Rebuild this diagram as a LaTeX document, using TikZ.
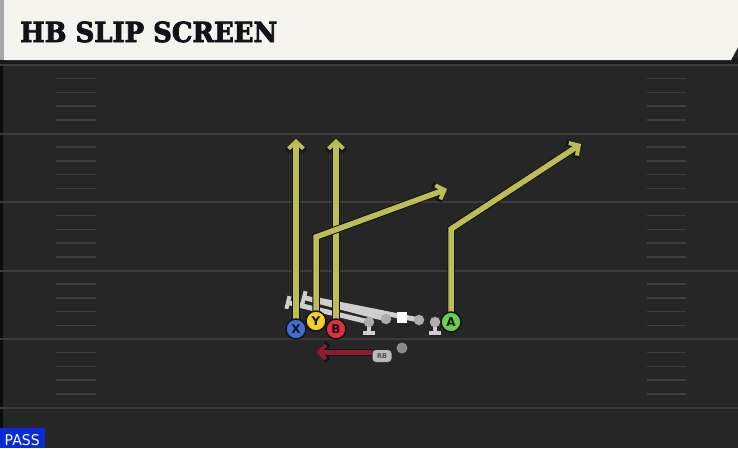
\documentclass[tikz,border=0pt]{standalone}
\usepackage{fontspec}
\usetikzlibrary{arrows.meta,calc}
\newfontfamily\titlefont[BoldFeatures={FakeBold=3}]{DejaVu Serif}
\newfontfamily\lblfont{DejaVu Sans}
\definecolor{fieldbg}{HTML}{262626}
\definecolor{yardc}{HTML}{3B3B3B}
\definecolor{hashc}{HTML}{3E3E3E}
\definecolor{headbg}{HTML}{F5F3ED}
\definecolor{routec}{HTML}{BDBD55}
\definecolor{outc}{HTML}{121218}
\definecolor{xblue}{HTML}{3D6FD6}
\definecolor{yyellow}{HTML}{F2D024}
\definecolor{bred}{HTML}{E0303F}
\definecolor{agreen}{HTML}{6AD04A}
\definecolor{rbred}{HTML}{8D1C2E}
\definecolor{linec}{HTML}{CFCFCF}
\definecolor{dotc}{HTML}{ADADAD}
\definecolor{passblue}{HTML}{0A2AD8}
\tikzset{
  yard/.style={draw=yardc, line width=2pt},
  hashm/.style={draw=hashc, line width=1.5pt},
  routeout/.style={draw=outc, line width=7.5pt, -{Straight Barb[length=8pt,width=18pt,line width=6pt]}, miter limit=4},
  routein/.style={draw=routec, line width=5.5pt, -{Straight Barb[length=7pt,width=15pt,line width=4pt]}, miter limit=4},
  rbout/.style={draw=outc, line width=7pt, -{Straight Barb[length=8pt,width=17pt,line width=6pt]}},
  rbin/.style={draw=rbred, line width=5pt, -{Straight Barb[length=7pt,width=14pt,line width=4pt]}},
  player/.style={circle, draw=outc, line width=1.5pt, minimum size=20pt, inner sep=0pt, font=\lblfont\bfseries\fontsize{12}{12}\selectfont, text=outc},
  lineman/.style={circle, fill=dotc, minimum size=10.5pt, inner sep=0pt},
  blockl/.style={draw=linec, line width=5pt, -{Bar[width=13pt,line width=4pt]}},
  blockn/.style={draw=linec, line width=5pt},
  peg/.style={draw=linec, line width=4pt},
}
\begin{document}
\begin{tikzpicture}[x=1pt,y=-1pt]
\useasboundingbox (0,0) rectangle (738,448);
% field
\fill[fieldbg] (0,0) rectangle (738,448);
\fill[black!70!fieldbg] (0,60) rectangle (2.5,448);
\foreach \yy in {65,133.5,202,270.5,339,407.5} \draw[yard] (0,\yy) -- (738,\yy);
\foreach \yb in {65,133.5,202,270.5,339} {
  \foreach \k in {1,2,3,4} {
    \draw[hashm] (56,\yb+13.7*\k) -- (96,\yb+13.7*\k);
    \draw[hashm] (647,\yb+13.7*\k) -- (686,\yb+13.7*\k);
  }
}
% header
\fill[black!90] (0,58) rectangle (738,64);
\fill[headbg] (4,0) -- (738,0) -- (738,47) -- (731,60) -- (4,60) -- cycle;
\fill[black!35] (0,0) rectangle (4,60);
\node[anchor=base west, inner sep=0pt, text=outc] (title) at (20,42) {\resizebox{257pt}{20.5pt}{\titlefont\bfseries HB SLIP SCREEN}};
% pass tag
\fill[passblue] (0,428) rectangle (45,448);
\node[anchor=base west, inner sep=0pt, text=white] (pass) at (4.5,445) {\resizebox{35pt}{11pt}{\lblfont PASS}};
% coordinates
\coordinate (pX) at (296,329);
\coordinate (pY) at (316,321);
\coordinate (pB) at (336,329);
\coordinate (pA) at (451,322);
\coordinate (pLT) at (369,322);
\coordinate (pLG) at (386,319);
\coordinate (pC) at (402,317.5);
\coordinate (pRG) at (419,320);
\coordinate (pRT) at (435,322);
\coordinate (xEnd) at (296,139);
\coordinate (bEnd) at (336,139);
\coordinate (yBrk) at (316,237);
\coordinate (yEnd) at (447,189);
\coordinate (aBrk) at (451,229);
\coordinate (aEnd) at (581,144);
\coordinate (capLT) at (286,302);
\coordinate (capLG) at (302,297);
\coordinate (capRG) at (318,300);
\coordinate (rbEnd) at (316,352);
\coordinate (pegLT) at (369,333);
\coordinate (pegRT) at (435,333);
% blocks
\draw[blockl] (pLT) -- (capLT);
\draw[blockl] (pLG) -- (capLG);
\draw[blockn] (pRG) -- (capRG);
\draw[peg] (pLT) -- (pegLT);
\draw[peg] ($(pegLT)+(-6,0)$) -- ($(pegLT)+(6,0)$);
\draw[peg] (pRT) -- (pegRT);
\draw[peg] ($(pegRT)+(-6,0)$) -- ($(pegRT)+(6,0)$);
% routes
\draw[routeout] (pX) -- (xEnd);
\draw[routein] (pX) -- (xEnd);
\draw[routeout] (pB) -- (bEnd);
\draw[routein] (pB) -- (bEnd);
\draw[routeout] (pY) -- (yBrk) -- (yEnd);
\draw[routein] (pY) -- (yBrk) -- (yEnd);
\draw[routeout] (pA) -- (aBrk) -- (aEnd);
\draw[routein] (pA) -- (aBrk) -- (aEnd);
% linemen
\node[lineman] (LT) at (pLT) {};
\node[lineman] (LG) at (pLG) {};
\node[fill=white, minimum size=10.5pt, inner sep=0pt] (C) at (pC) {};
\node[lineman] (RG) at (pRG) {};
\node[lineman] (RT) at (pRT) {};
% RB
\node[fill=dotc!85!white, rounded corners=3.5pt, minimum width=19pt, minimum height=12pt, inner sep=0pt, font=\lblfont\bfseries\fontsize{6.5}{6.5}\selectfont, text=black!70] (RB) at (382,356) {RB};
\draw[rbout] (RB.west |- rbEnd) -- (rbEnd);
\draw[rbin] (RB.west |- rbEnd) -- (rbEnd);
\node[circle, fill=black!45, minimum size=11pt, inner sep=0pt] (QB) at (402,348) {};
% players
\node[player, fill=yyellow] (Y) at (pY) {Y};
\node[player, fill=xblue] (X) at (pX) {X};
\node[player, fill=bred] (B) at (pB) {B};
\node[player, fill=agreen] (A) at (pA) {A};
\end{tikzpicture}
\end{document}
